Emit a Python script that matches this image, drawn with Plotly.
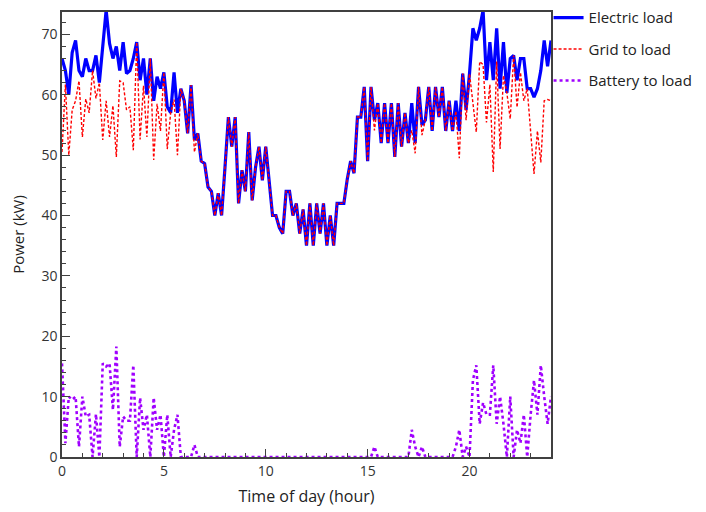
import plotly.graph_objects as go

# time axis: 10-minute steps over the day (hours)
hours = [i / 6 for i in range(145)]

electric_load = [
    66, 64, 60, 67, 69, 64, 63, 66, 64, 64, 66.5, 62,
    68, 74, 68.5, 66, 68, 64, 68.7, 63.5, 64, 66, 68.7, 62.4,
    66, 60, 66, 59, 63, 61, 63.7, 58, 57, 63.7, 57, 61,
    59, 53.6, 61.6, 52.5, 53.6, 49, 48.6, 44.7, 44, 40, 43.7, 40,
    48, 56.3, 51.4, 56.3, 42, 47.5, 44, 53.8, 42.5, 48, 51.4, 45.8,
    51.4, 45, 40, 40, 38, 37, 44, 44, 40, 42, 37, 41,
    35, 42, 35, 42, 37, 42, 35, 40, 35, 42, 42, 42,
    46, 49, 47, 56.3, 56.3, 61.3, 49, 61.3, 55.8, 58.6, 52, 58.6,
    52, 58.6, 49.7, 58.6, 51.4, 57, 52, 58.6, 52, 61.3, 55, 55.8,
    61.3, 54, 61.3, 56.3, 61.3, 54, 59, 54, 59, 54, 63.5, 57.5,
    63.5, 71, 69, 71, 74, 62.4, 68.7, 62.4, 71, 61, 68.7, 60.3,
    66, 66.5, 62.4, 66, 66, 61, 61, 59.6, 61, 64, 69, 64.7,
    69,
]

grid_to_load = [
    50.5, 61.7, 50, 57.5, 59, 62.3, 53, 59.3, 57, 64, 59.4, 62,
    52.5, 59, 53, 58.2, 49.7, 62.3, 62, 57.5, 58, 50.8, 68.7, 52.6,
    61.5, 53, 66, 49.2, 58.5, 54, 63.7, 51, 57, 59.2, 50, 61,
    59, 53.6, 61.6, 50.5, 53.6, 49, 48.6, 44.7, 44, 40, 43.7, 40,
    48, 56.3, 51.4, 56.3, 42, 47.5, 44, 53.8, 42.5, 48, 51.4, 45.8,
    51.4, 45, 40, 40, 38, 37, 44, 44, 40, 42, 37, 41,
    35, 42, 35, 42, 37, 42, 35, 40, 35, 42, 42, 42,
    46, 49, 47, 56.3, 56.3, 61.3, 49, 61.3, 54.1, 58.6, 52, 58.6,
    52, 58.6, 49.7, 58.6, 51.4, 57, 52, 54.1, 50.3, 61.3, 53.3, 55.8,
    61.3, 54, 61.3, 56.3, 61.3, 54, 59, 54, 57.3, 49.5, 63.5, 55.8,
    63.5, 58.3, 53.8, 65.5, 65, 55.4, 61.7, 47.2, 65.5, 51, 63.2, 60.3,
    56, 66.5, 57.9, 63.7, 59, 61, 54, 46.9, 54, 48.8, 59, 59.2,
    59,
]

battery_to_load = [
    15.5, 2.3, 10, 9.5, 10, 1.7, 10, 6.7, 7, 0, 7.1, 0,
    15.5, 15, 15.5, 7.8, 18.3, 1.7, 6.7, 6, 6, 15.2, 0, 9.8,
    4.5, 7, 0, 9.8, 4.5, 7, 0, 7, 0, 4.5, 7, 0,
    0, 0, 0, 2, 0, 0, 0, 0, 0, 0, 0, 0,
    0, 0, 0, 0, 0, 0, 0, 0, 0, 0, 0, 0,
    0, 0, 0, 0, 0, 0, 0, 0, 0, 0, 0, 0,
    0, 0, 0, 0, 0, 0, 0, 0, 0, 0, 0, 0,
    0, 0, 0, 0, 0, 0, 0, 0, 1.7, 0, 0, 0,
    0, 0, 0, 0, 0, 0, 0, 4.5, 1.7, 0, 1.7, 0,
    0, 0, 0, 0, 0, 0, 0, 0, 1.7, 4.5, 0, 1.7,
    0, 12.7, 15.2, 5.5, 9, 7, 7, 15.2, 5.5, 10, 5.5, 0,
    10, 0, 4.5, 2.3, 7, 0, 7, 12.7, 7, 15.2, 10, 5.5,
    10,
]

x_ticks = [0, 5, 10, 15, 20]
y_ticks = [0, 10, 20, 30, 40, 50, 60, 70]

font_family = "Open Sans, Noto Sans, DejaVu Sans, sans-serif"

fig = go.Figure()
fig.add_trace(go.Scatter(
    x=hours, y=electric_load, mode="lines", name="Electric load",
    legendgroup="a", line=dict(color="#0000FF", width=3.2),
))
fig.add_trace(go.Scatter(
    x=hours, y=grid_to_load, mode="lines", name="Grid to load",
    legendgroup="b", line=dict(color="#FF0000", width=1.4, dash="3px,2px"),
))
fig.add_trace(go.Scatter(
    x=hours, y=battery_to_load, mode="lines", name="Battery to load",
    legendgroup="c", line=dict(color="#A000FF", width=2.6, dash="dot"),
))

axis_common = dict(
    showgrid=False, zeroline=False, showline=True, mirror=True,
    linecolor="#404040", linewidth=1.5, automargin=False,
    ticks="inside", ticklen=8, tickwidth=1.2, tickcolor="#404040",
    tickfont=dict(size=14, color="#333333", family=font_family),
)

fig.update_layout(
    width=698, height=504,
    margin=dict(l=54, r=155, t=4, b=55, autoexpand=False),
    plot_bgcolor="white", paper_bgcolor="white",
    font=dict(family=font_family, size=14, color="#222222"),
    showlegend=True,
    legend=dict(
        x=0.995, y=1.024, xanchor="left", yanchor="top",
        font=dict(size=15, color="#222222", family=font_family),
        itemwidth=30, tracegroupgap=9,
        bgcolor="rgba(0,0,0,0)",
    ),
    xaxis=dict(
        range=[0, 24], tickvals=x_ticks,
        title=dict(text="Time of day (hour)", font=dict(size=16), standoff=12),
        minor=dict(dtick=1, ticks="inside", ticklen=4, tickcolor="#404040"),
        **axis_common,
    ),
    yaxis=dict(
        range=[0, 73.7], tickvals=y_ticks,
        title=dict(text="Power (kW)", font=dict(size=15), standoff=13),
        minor=dict(dtick=2, ticks="inside", ticklen=4, tickcolor="#404040"),
        **axis_common,
    ),
)

fig.write_html("out.html")
